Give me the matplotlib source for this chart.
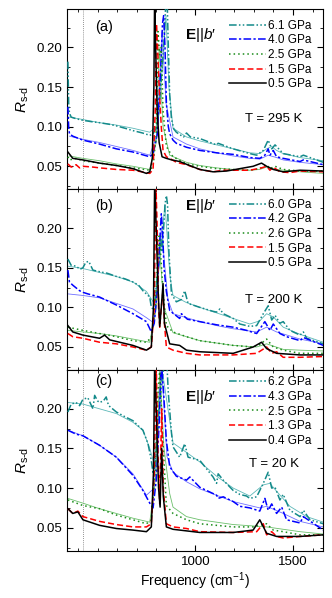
import matplotlib
matplotlib.use("Agg")
import matplotlib.pyplot as plt
from matplotlib.ticker import MultipleLocator, FixedLocator

plt.rcParams['font.family'] = ['Liberation Sans', 'DejaVu Sans']
plt.rcParams['mathtext.fontset'] = 'custom'
plt.rcParams['mathtext.rm'] = 'Liberation Sans'
plt.rcParams['mathtext.it'] = 'Liberation Sans:italic'
plt.rcParams['mathtext.bf'] = 'Liberation Sans:bold'

# ---------------- data (frequency in cm^-1, R_s-d) ----------------
# panel (a), T = 295 K
a61_f = [348, 352, 356, 365, 390, 425, 476, 510, 560, 596, 640, 681, 730, 767, 784, 800, 815, 826, 838, 848, 856, 862, 869, 878, 890, 903, 920, 940, 955, 975, 1023, 1109, 1117, 1194, 1279, 1314, 1348, 1373, 1391, 1408, 1450, 1536, 1553, 1655]
a61_r = [0.182, 0.130, 0.117, 0.112, 0.110, 0.108, 0.106, 0.105, 0.103, 0.101, 0.098, 0.095, 0.092, 0.089, 0.091, 0.098, 0.120, 0.160, 0.200, 0.250, 0.260, 0.200, 0.140, 0.110, 0.097, 0.093, 0.090, 0.087, 0.092, 0.087, 0.085, 0.077, 0.079, 0.072, 0.066, 0.064, 0.070, 0.083, 0.072, 0.077, 0.066, 0.062, 0.064, 0.055]
a40_f = [348, 352, 356, 373, 425, 510, 596, 681, 767, 784, 805, 818, 826, 832, 838, 845, 852, 862, 869, 886, 903, 955, 1023, 1109, 1194, 1279, 1330, 1356, 1373, 1382, 1399, 1416, 1450, 1536, 1553, 1655]
a40_r = [0.125, 0.100, 0.091, 0.088, 0.083, 0.078, 0.072, 0.068, 0.062, 0.066, 0.090, 0.150, 0.190, 0.230, 0.240, 0.200, 0.130, 0.100, 0.091, 0.083, 0.079, 0.074, 0.070, 0.067, 0.065, 0.061, 0.060, 0.064, 0.072, 0.064, 0.070, 0.062, 0.060, 0.056, 0.058, 0.052]
a25_f = [348, 356, 390, 425, 510, 596, 681, 767, 784, 800, 809, 818, 826, 835, 852, 869, 886, 955, 1023, 1109, 1194, 1279, 1330, 1365, 1382, 1408, 1450, 1536, 1655]
a25_r = [0.062, 0.058, 0.060, 0.057, 0.054, 0.051, 0.048, 0.045, 0.050, 0.090, 0.220, 0.190, 0.200, 0.120, 0.075, 0.068, 0.062, 0.053, 0.050, 0.047, 0.046, 0.045, 0.047, 0.052, 0.047, 0.050, 0.046, 0.044, 0.044]
a15_f = [348, 365, 390, 408, 425, 476, 510, 596, 681, 750, 767, 784, 795, 801, 807, 815, 826, 835, 852, 869, 903, 955, 1023, 1091, 1143, 1194, 1279, 1339, 1365, 1382, 1399, 1433, 1484, 1536, 1655]
a15_r = [0.053, 0.049, 0.052, 0.048, 0.050, 0.049, 0.048, 0.046, 0.045, 0.042, 0.041, 0.046, 0.120, 0.230, 0.200, 0.150, 0.100, 0.070, 0.062, 0.060, 0.055, 0.052, 0.046, 0.043, 0.045, 0.045, 0.045, 0.048, 0.050, 0.045, 0.049, 0.043, 0.042, 0.044, 0.043]
a05_f = [348, 373, 425, 510, 596, 681, 750, 767, 780, 788, 792, 797, 805, 815, 830, 852, 880, 920, 960, 1023, 1091, 1160, 1228, 1296, 1339, 1365, 1399, 1450, 1536, 1655]
a05_r = [0.068, 0.060, 0.058, 0.054, 0.051, 0.047, 0.041, 0.043, 0.060, 0.150, 0.270, 0.200, 0.120, 0.080, 0.062, 0.060, 0.058, 0.056, 0.052, 0.046, 0.043, 0.044, 0.047, 0.050, 0.054, 0.050, 0.046, 0.043, 0.045, 0.044]
a61fit_f = [356, 425, 510, 596, 681, 767, 800, 830, 850, 865, 886, 955, 1023, 1109, 1194, 1279, 1330, 1365, 1391, 1416, 1450, 1536, 1655]
a61fit_r = [0.112, 0.109, 0.105, 0.102, 0.098, 0.093, 0.100, 0.170, 0.240, 0.150, 0.098, 0.087, 0.082, 0.077, 0.072, 0.067, 0.066, 0.072, 0.075, 0.070, 0.066, 0.061, 0.057]
a40fit_f = [356, 425, 510, 596, 681, 767, 805, 830, 850, 886, 955, 1023, 1109, 1194, 1279, 1330, 1373, 1416, 1450, 1536, 1655]
a40fit_r = [0.088, 0.084, 0.080, 0.075, 0.070, 0.064, 0.090, 0.220, 0.130, 0.087, 0.078, 0.072, 0.067, 0.063, 0.060, 0.059, 0.064, 0.061, 0.058, 0.055, 0.052]
a25fit_f = [356, 425, 510, 596, 681, 767, 800, 815, 835, 869, 955, 1023, 1109, 1194, 1279, 1330, 1365, 1416, 1536, 1655]
a25fit_r = [0.063, 0.060, 0.057, 0.053, 0.050, 0.046, 0.080, 0.200, 0.100, 0.064, 0.055, 0.051, 0.048, 0.046, 0.045, 0.046, 0.049, 0.046, 0.043, 0.041]

# panel (b), T = 200 K
b60_f = [348, 365, 390, 410, 425, 440, 455, 476, 510, 550, 596, 640, 681, 710, 732, 767, 775, 784, 795, 805, 815, 822, 830, 838, 845, 852, 858, 865, 878, 903, 929, 946, 963, 1023, 1091, 1109, 1126, 1143, 1194, 1228, 1279, 1314, 1348, 1373, 1391, 1408, 1433, 1450, 1484, 1536, 1553, 1570, 1655]
b60_r = [0.161, 0.153, 0.152, 0.148, 0.150, 0.157, 0.158, 0.147, 0.145, 0.143, 0.139, 0.136, 0.132, 0.128, 0.121, 0.113, 0.100, 0.098, 0.110, 0.140, 0.160, 0.190, 0.170, 0.200, 0.230, 0.241, 0.230, 0.170, 0.117, 0.107, 0.110, 0.121, 0.105, 0.100, 0.095, 0.094, 0.098, 0.092, 0.086, 0.079, 0.076, 0.077, 0.092, 0.102, 0.084, 0.090, 0.080, 0.082, 0.071, 0.065, 0.069, 0.061, 0.054]
b42_f = [348, 356, 373, 408, 425, 450, 510, 596, 681, 750, 775, 790, 805, 815, 826, 832, 840, 852, 869, 920, 929, 960, 1023, 1109, 1194, 1262, 1314, 1356, 1382, 1399, 1433, 1467, 1536, 1553, 1655]
b42_r = [0.147, 0.132, 0.128, 0.121, 0.119, 0.117, 0.113, 0.103, 0.092, 0.082, 0.069, 0.080, 0.120, 0.170, 0.218, 0.200, 0.150, 0.120, 0.096, 0.086, 0.092, 0.085, 0.082, 0.078, 0.075, 0.071, 0.067, 0.082, 0.071, 0.079, 0.067, 0.063, 0.058, 0.062, 0.052]
b26_f = [348, 425, 510, 596, 681, 750, 775, 795, 805, 815, 822, 835, 852, 886, 955, 1023, 1109, 1194, 1296, 1330, 1365, 1399, 1450, 1536, 1655]
b26_r = [0.075, 0.071, 0.067, 0.063, 0.058, 0.056, 0.062, 0.100, 0.150, 0.190, 0.170, 0.120, 0.077, 0.069, 0.063, 0.058, 0.055, 0.052, 0.050, 0.053, 0.060, 0.050, 0.046, 0.042, 0.042]
b15_f = [348, 373, 425, 510, 596, 681, 750, 775, 790, 798, 805, 812, 818, 826, 835, 842, 852, 886, 955, 1023, 1194, 1314, 1365, 1391, 1416, 1450, 1536, 1655]
b15_r = [0.067, 0.063, 0.061, 0.056, 0.054, 0.050, 0.046, 0.050, 0.100, 0.260, 0.200, 0.100, 0.075, 0.100, 0.121, 0.080, 0.050, 0.046, 0.042, 0.040, 0.040, 0.042, 0.050, 0.042, 0.044, 0.037, 0.037, 0.038]
b05_f = [348, 373, 425, 510, 536, 562, 681, 750, 775, 786, 792, 800, 810, 818, 826, 835, 842, 869, 920, 955, 1023, 1194, 1296, 1339, 1365, 1416, 1536, 1655]
b05_r = [0.077, 0.069, 0.065, 0.061, 0.065, 0.059, 0.052, 0.046, 0.050, 0.100, 0.260, 0.200, 0.120, 0.076, 0.100, 0.130, 0.080, 0.054, 0.052, 0.046, 0.044, 0.042, 0.050, 0.056, 0.048, 0.042, 0.040, 0.040]
b60fit_f = [348, 425, 510, 596, 681, 750, 790, 815, 845, 870, 886, 955, 1023, 1109, 1194, 1279, 1330, 1365, 1399, 1450, 1536, 1655]
b60fit_r = [0.152, 0.149, 0.144, 0.139, 0.132, 0.120, 0.105, 0.150, 0.230, 0.140, 0.115, 0.106, 0.100, 0.093, 0.086, 0.079, 0.083, 0.092, 0.088, 0.075, 0.066, 0.056]
b42fit_f = [348, 425, 510, 596, 681, 750, 790, 826, 860, 886, 1023, 1109, 1194, 1314, 1365, 1416, 1536, 1655]
b42fit_r = [0.117, 0.115, 0.112, 0.105, 0.098, 0.087, 0.080, 0.200, 0.110, 0.092, 0.082, 0.077, 0.073, 0.069, 0.075, 0.069, 0.060, 0.054]
b26fit_f = [348, 425, 510, 596, 681, 767, 800, 815, 840, 886, 1023, 1194, 1314, 1365, 1450, 1536, 1655]
b26fit_r = [0.071, 0.069, 0.067, 0.064, 0.060, 0.056, 0.100, 0.180, 0.100, 0.068, 0.058, 0.052, 0.050, 0.054, 0.047, 0.046, 0.045]

# panel (c), T = 20 K
c62_f = [348, 365, 390, 408, 425, 450, 476, 485, 500, 510, 530, 544, 555, 562, 596, 640, 681, 732, 758, 775, 784, 795, 805, 815, 826, 838, 852, 862, 878, 886, 920, 946, 963, 1023, 1091, 1109, 1117, 1143, 1194, 1228, 1262, 1279, 1314, 1348, 1373, 1391, 1408, 1433, 1450, 1484, 1536, 1553, 1587, 1655]
c62_r = [0.196, 0.206, 0.208, 0.204, 0.212, 0.214, 0.200, 0.217, 0.210, 0.208, 0.210, 0.215, 0.205, 0.203, 0.196, 0.190, 0.185, 0.173, 0.156, 0.135, 0.118, 0.130, 0.160, 0.200, 0.230, 0.250, 0.270, 0.220, 0.170, 0.152, 0.139, 0.156, 0.139, 0.135, 0.114, 0.106, 0.118, 0.110, 0.097, 0.092, 0.090, 0.087, 0.089, 0.106, 0.120, 0.100, 0.101, 0.085, 0.092, 0.072, 0.064, 0.072, 0.060, 0.055]
c43_f = [348, 390, 425, 510, 596, 681, 732, 767, 784, 800, 815, 826, 838, 852, 869, 903, 955, 972, 1023, 1109, 1117, 1143, 1194, 1228, 1279, 1330, 1356, 1373, 1391, 1416, 1442, 1467, 1536, 1553, 1655]
c43_r = [0.173, 0.168, 0.166, 0.154, 0.139, 0.116, 0.097, 0.081, 0.075, 0.110, 0.180, 0.260, 0.220, 0.160, 0.127, 0.115, 0.110, 0.114, 0.101, 0.091, 0.087, 0.089, 0.083, 0.077, 0.075, 0.071, 0.087, 0.072, 0.080, 0.068, 0.076, 0.060, 0.056, 0.064, 0.047]
c25_f = [348, 425, 510, 596, 681, 750, 775, 795, 809, 818, 830, 852, 886, 955, 1023, 1194, 1296, 1365, 1399, 1450, 1536, 1655]
c25_r = [0.085, 0.078, 0.074, 0.066, 0.060, 0.055, 0.060, 0.120, 0.220, 0.250, 0.180, 0.078, 0.068, 0.060, 0.055, 0.051, 0.051, 0.055, 0.047, 0.045, 0.041, 0.041]
c13_f = [348, 373, 399, 425, 510, 596, 681, 750, 775, 790, 800, 808, 818, 828, 836, 852, 886, 955, 1023, 1194, 1314, 1348, 1365, 1391, 1416, 1450, 1536, 1655]
c13_r = [0.074, 0.068, 0.071, 0.064, 0.058, 0.054, 0.051, 0.051, 0.055, 0.120, 0.260, 0.150, 0.080, 0.200, 0.100, 0.055, 0.051, 0.049, 0.045, 0.044, 0.045, 0.055, 0.041, 0.045, 0.039, 0.037, 0.039, 0.041]
c04_f = [348, 373, 399, 425, 510, 596, 681, 750, 775, 786, 792, 800, 812, 820, 828, 836, 852, 886, 955, 1023, 1194, 1296, 1330, 1365, 1416, 1536, 1655]
c04_r = [0.074, 0.068, 0.070, 0.060, 0.053, 0.049, 0.047, 0.045, 0.051, 0.120, 0.260, 0.200, 0.100, 0.076, 0.150, 0.090, 0.051, 0.048, 0.046, 0.044, 0.044, 0.047, 0.060, 0.043, 0.039, 0.039, 0.041]
c62fit_f = [348, 425, 510, 596, 681, 732, 767, 790, 830, 860, 886, 955, 1023, 1109, 1194, 1279, 1348, 1382, 1416, 1484, 1570, 1655]
c62fit_r = [0.208, 0.206, 0.200, 0.194, 0.183, 0.173, 0.150, 0.130, 0.250, 0.200, 0.157, 0.145, 0.133, 0.115, 0.100, 0.090, 0.104, 0.106, 0.096, 0.077, 0.064, 0.057]
c43fit_f = [348, 425, 510, 596, 681, 750, 790, 826, 855, 886, 955, 1023, 1194, 1330, 1365, 1450, 1536, 1655]
c43fit_r = [0.173, 0.166, 0.154, 0.139, 0.118, 0.091, 0.100, 0.260, 0.140, 0.120, 0.108, 0.099, 0.083, 0.075, 0.077, 0.068, 0.058, 0.051]
c25fit_f = [348, 425, 510, 681, 767, 800, 818, 840, 869, 886, 955, 1023, 1194, 1365, 1536, 1655]
c25fit_r = [0.087, 0.081, 0.074, 0.062, 0.057, 0.120, 0.250, 0.150, 0.093, 0.076, 0.064, 0.060, 0.054, 0.051, 0.045, 0.042]

labels_a = ["6.1 GPa", "4.0 GPa", "2.5 GPa", "1.5 GPa", "0.5 GPa"]
labels_b = ["6.0 GPa", "4.2 GPa", "2.6 GPa", "1.5 GPa", "0.5 GPa"]
labels_c = ["6.2 GPa", "4.3 GPa", "2.5 GPa", "1.3 GPa", "0.4 GPa"]
temps = ["T = 295 K", "T = 200 K", "T = 20 K"]
tags = ["(a)", "(b)", "(c)"]
cutoff = 425  # dotted vertical line

# ---------------- styles ----------------
colors = ['#138a8a', '#0000ff', '#1a8c1a', '#ff0000', '#000000']
fit_colors = ['#5cb8b8', '#7070ff', '#6cc06c']
styles = [(0, (5, 1.5, 1, 1.5, 1, 1.5)), (0, (5, 1.5, 1.5, 1.5)), (0, (1, 2)), (0, (4, 2)), '-']

panels = [
    ([(a61_f, a61_r), (a40_f, a40_r), (a25_f, a25_r), (a15_f, a15_r), (a05_f, a05_r)],
     [(a61fit_f, a61fit_r), (a40fit_f, a40fit_r), (a25fit_f, a25fit_r)], labels_a),
    ([(b60_f, b60_r), (b42_f, b42_r), (b26_f, b26_r), (b15_f, b15_r), (b05_f, b05_r)],
     [(b60fit_f, b60fit_r), (b42fit_f, b42fit_r), (b26fit_f, b26fit_r)], labels_b),
    ([(c62_f, c62_r), (c43_f, c43_r), (c25_f, c25_r), (c13_f, c13_r), (c04_f, c04_r)],
     [(c62fit_f, c62fit_r), (c43fit_f, c43fit_r), (c25fit_f, c25fit_r)], labels_c),
]

fig = plt.figure(figsize=(3.32, 5.98), dpi=100)
bottoms = [0.6835, 0.3813, 0.0791]
legend_tops = [0.957, 0.967, 0.984]
tag_y = [0.90, 0.91, 0.94]
E_y = [0.855, 0.91, 0.85]
T_y = [0.39, 0.39, 0.48]

for i, (data, fits, labels) in enumerate(panels):
    ax = fig.add_axes([0.2027, bottoms[i], 0.7693, 0.3022])

    # fits first, thin lines underneath
    for (f, r), c in zip(fits, fit_colors):
        ax.plot(f, r, color=c, lw=0.6, zorder=2)

    for (f, r), c, ls, lab in zip(data, colors, styles, labels):
        ax.plot(f, r, color=c, ls=ls, lw=1.1, label=lab, zorder=3)

    ax.axvline(cutoff, color='#707070', ls=(0, (1, 1.5)), lw=0.6, zorder=1)

    ax.set_xlim(345, 1652)
    ax.set_ylim(0.021, 0.249)
    ax.xaxis.set_major_locator(FixedLocator([1000, 1500]))
    ax.xaxis.set_minor_locator(MultipleLocator(100))
    ax.yaxis.set_major_locator(MultipleLocator(0.05))
    ax.yaxis.set_minor_locator(MultipleLocator(0.025))
    ax.yaxis.set_major_formatter(plt.FuncFormatter(lambda v, p: f"{v:.2f}"))
    ax.tick_params(which='both', direction='in', top=True, right=True, labelsize=9.5)
    ax.tick_params(which='major', length=4, width=0.8)
    ax.tick_params(which='minor', length=2, width=0.6)
    for s in ax.spines.values():
        s.set_linewidth(0.8)
    if i < 2:
        ax.tick_params(labelbottom=False)
    else:
        ax.set_xlabel(r"Frequency (cm$^{-1}$)", fontsize=10, labelpad=2)

    ax.set_ylabel(r"$R_{\mathrm{s}\text{-}\mathrm{d}}$", fontsize=11, labelpad=4)

    ax.text(0.11, tag_y[i], tags[i], transform=ax.transAxes, fontsize=10.5,
            ha='left', va='center')
    ax.text(0.46, E_y[i], r"$\mathbf{E}$||$b$′", transform=ax.transAxes,
            fontsize=11, ha='left', va='center')
    ax.text(0.81, T_y[i], temps[i], transform=ax.transAxes, fontsize=9.5,
            ha='center', va='center')

    leg = ax.legend(loc='upper right', bbox_to_anchor=(0.968, legend_tops[i]),
                    frameon=False, fontsize=8.5, handlelength=3.2,
                    handletextpad=0.1, labelspacing=0.22, borderaxespad=0,
                    borderpad=0.3)

fig.savefig("out.png", dpi=100)
